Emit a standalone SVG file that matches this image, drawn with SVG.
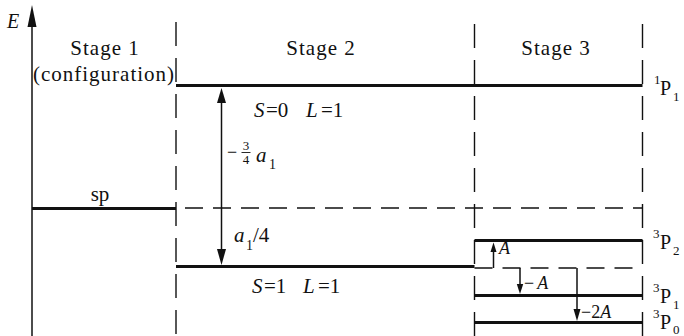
<svg xmlns="http://www.w3.org/2000/svg" width="684" height="336" viewBox="0 0 684 336">
<style>
.t{font-family:"Liberation Serif","Times New Roman",serif;fill:#111}
.st{font-size:21px;letter-spacing:1px}
.it{font-style:italic}
.lvl{stroke:#111;stroke-width:3;fill:none}
.dsh{stroke:#111;stroke-width:1.4;fill:none;stroke-dasharray:18 10}
.vd{stroke:#111;stroke-width:1.4;fill:none;stroke-dasharray:24 12}
.ax{stroke:#111;stroke-width:1.5;fill:none}
.ah{fill:#111}
</style>
<g id="axis">
<line class="ax" x1="32" y1="336" x2="32" y2="20"/>
<polygon class="ah" points="32,5 27.5,27 36.5,27"/>
<text class="t it" x="7" y="28" font-size="20">E</text>
</g>
<g id="dividers">
<line class="vd" x1="176" y1="22" x2="176" y2="336"/>
<line class="vd" x1="474.5" y1="24" x2="474.5" y2="336"/>
<line class="vd" x1="642.5" y1="24" x2="642.5" y2="336"/>
</g>
<g id="headers">
<text class="t st" x="105" y="55" text-anchor="middle">Stage 1</text>
<text class="t st" x="104" y="81" text-anchor="middle">(configuration)</text>
<text class="t st" x="321" y="55" text-anchor="middle">Stage 2</text>
<text class="t st" x="556" y="55" text-anchor="middle">Stage 3</text>
</g>
<g id="sp">
<line class="lvl" x1="32" y1="208.5" x2="176" y2="208.5"/>
<text class="t" x="100" y="201" font-size="21" text-anchor="middle">sp</text>
</g>
<g id="singlet">
<line class="lvl" x1="176" y1="85.5" x2="642.5" y2="85.5"/>
<text class="t" y="117" font-size="21"><tspan class="it" x="254">S</tspan><tspan x="266">=0</tspan><tspan class="it" x="306">L</tspan><tspan x="321">=1</tspan></text>
<text class="t" x="654" y="84" font-size="13">1</text>
<text class="t" x="660" y="95" font-size="20">P</text>
<text class="t" x="673" y="101" font-size="13">1</text>
</g>
<g id="triplet">
<line class="lvl" x1="176" y1="266.5" x2="474.5" y2="266.5"/>
<text class="t" y="293" font-size="21"><tspan class="it" x="252">S</tspan><tspan x="264">=1</tspan><tspan class="it" x="303">L</tspan><tspan x="318">=1</tspan></text>
</g>
<g id="P2">
<line class="lvl" x1="474.5" y1="240.5" x2="642.5" y2="240.5"/>
<text class="t" x="653" y="238" font-size="13">3</text>
<text class="t" x="660" y="249" font-size="20">P</text>
<text class="t" x="673" y="255" font-size="13">2</text>
</g>
<g id="P1">
<line class="lvl" x1="474.5" y1="295.5" x2="642.5" y2="295.5"/>
<text class="t" x="653" y="292" font-size="13">3</text>
<text class="t" x="660" y="303" font-size="20">P</text>
<text class="t" x="673" y="309" font-size="13">1</text>
</g>
<g id="P0">
<line class="lvl" x1="474.5" y1="322.5" x2="642.5" y2="322.5"/>
<text class="t" x="653" y="318" font-size="13">3</text>
<text class="t" x="660" y="329" font-size="20">P</text>
<text class="t" x="673" y="334" font-size="13">0</text>
</g>
<g id="connectors">
<line class="dsh" x1="185" y1="208" x2="642.5" y2="208"/>
<line class="dsh" x1="474.5" y1="268" x2="642.5" y2="268"/>
<line class="ax" x1="221.5" y1="100" x2="221.5" y2="252"/>
<polygon class="ah" points="221.5,88 217,103 226,103"/>
<polygon class="ah" points="221.5,265 217,249 226,249"/>
<line class="ax" x1="493.5" y1="250" x2="493.5" y2="268"/>
<polygon class="ah" points="493.5,242.5 490.5,252 496.5,252"/>
<line class="ax" x1="520" y1="268" x2="520" y2="287"/>
<polygon class="ah" points="520,294 516.8,284 523.2,284"/>
<line class="ax" x1="577" y1="268" x2="577" y2="312"/>
<polygon class="ah" points="577,321 573.5,309 580.5,309"/>
</g>
<g id="labels">
<text class="t" x="227" y="158" font-size="18">−</text>
<text class="t" x="246" y="150" font-size="13" text-anchor="middle">3</text>
<line x1="241.5" y1="152.5" x2="250.5" y2="152.5" stroke="#111" stroke-width="0.9"/>
<text class="t" x="246" y="164" font-size="13" text-anchor="middle">4</text>
<text class="t it" x="256" y="162" font-size="21">a</text>
<text class="t" x="269" y="169" font-size="14">1</text>
<text class="t it" x="234" y="242" font-size="21">a</text>
<text class="t" x="246" y="250" font-size="14">1</text>
<text class="t" x="253" y="242" font-size="21">/4</text>
<text class="t it" x="499" y="254" font-size="18">A</text>
<text class="t" x="524" y="289" font-size="18">−<tspan class="it" dx="3">A</tspan></text>
<text class="t" x="581" y="318" font-size="18">−2<tspan class="it">A</tspan></text>
</g>
</svg>
